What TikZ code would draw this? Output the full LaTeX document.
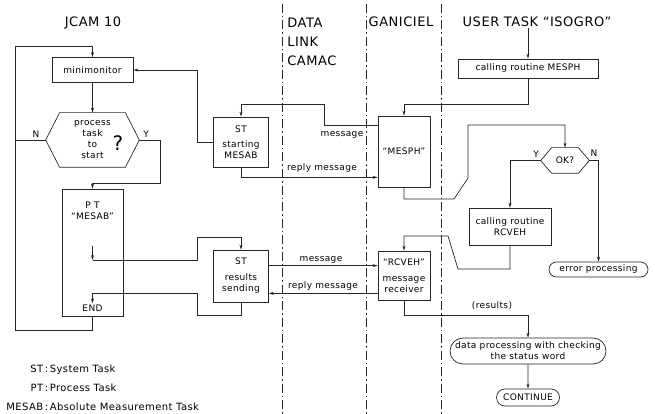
\documentclass[tikz,border=0pt]{standalone}
\usepackage{fontspec}
\setmainfont{DejaVu Sans}[LetterSpace=4]
\usetikzlibrary{arrows.meta,shapes.misc}

\begin{document}
\begin{tikzpicture}
  [x=1pt,y=-1pt,line width=0.7pt,draw=black!85,
   every node/.style={font=\fontsize{9}{11}\selectfont,inner sep=1pt,align=center},
   box/.style={draw,rectangle},
   term/.style={draw,rounded rectangle},
   hexa/.style={rectangle},
   head/.style={font=\fontsize{13}{19}\selectfont},
   arr/.style={-{Stealth[length=5pt,width=3pt]}},
   zone/.style={line width=0.5pt,dash pattern=on 9pt off 3pt on 1.5pt off 3pt}]
  \useasboundingbox (0,0) rectangle (655,414);

  % column titles and separators
  \node[head] (jcam) at (93,23) {JCAM 10};
  \node[head,align=left,anchor=west] (link) at (286,42) {DATA\\LINK\\CAMAC};
  \node[head] (ganiciel) at (401,22) {GANICIEL};
  \node[head] (user) at (537,22) {USER TASK ``ISOGRO''};
  \foreach \x in {282,366,441}
    \draw[zone] (\x,4) -- (\x,414);

  % JCAM 10
  \node[box,minimum width=81,minimum height=25] (mini) at (92.5,70) {minimonitor};
  \node[hexa,minimum width=93,minimum height=54] (task) at (92.5,140) {process\\task\\to\\start};
  \node[font=\fontsize{20}{20}\selectfont] (qmark) at (118,143) {?};
  \node[box,minimum width=61,minimum height=127] (pt) at (92.5,252.5) {};
  \node (ptname) at (92.5,211) {P T\\``MESAB''};
  \node (ptend) at (92.5,308) {END};
  \node (nlbl) at (36,134) {N};
  \node (ylbl) at (146,134) {Y};

  % system tasks
  \node[box,minimum width=55,minimum height=50] (ststart) at (241,142) {ST\\[4pt]starting\\MESAB};
  \node[box,minimum width=55,minimum height=52] (stsend) at (241,276) {ST\\[5pt]results\\sending};

  % GANICIEL
  \node[box,minimum width=52,minimum height=71] (mesph) at (404,151.5) {``MESPH''};
  \node[box,minimum width=52,minimum height=49] (rcveh) at (404,275.5) {``RCVEH''\\[5pt]message\\receiver};

  % user task
  \node[box,minimum width=140,minimum height=19] (callmesph) at (528,68.5) {calling routine MESPH};
  \node[hexa,minimum width=48,minimum height=25] (ok) at (565,160.5) {OK?};
  \node (oky) at (536,154) {Y};
  \node (okn) at (594,153) {N};
  \node[box,minimum width=82,minimum height=37] (callrcveh) at (510,226.5) {calling routine\\RCVEH};
  \node[term,minimum width=101,minimum height=15] (err) at (598.5,269.5) {error processing};
  \node[term,minimum width=158,minimum height=26] (datap) at (528,351) {data processing with checking\\the status word};
  \node[term,minimum width=65,minimum height=17] (cont) at (528,397.5) {CONTINUE};

  % message labels
  \node (msgup) at (342,135) {message};
  \node (replyup) at (322,168) {reply message};
  \node (msgdown) at (321,260) {message};
  \node (replydown) at (323,286) {reply message};
  \node (results) at (492,306) {(results)};

  % hexagon outlines
  \foreach \h/\c in {task/14,ok/11}
    \draw (\h.west) -- ([xshift=\c]\h.north west) -- ([xshift=-\c]\h.north east)
      -- (\h.east) -- ([xshift=-\c]\h.south east) -- ([xshift=\c]\h.south west) -- cycle;

  \coordinate (loop) at (15,46);
  \coordinate (ptflow) at (92.5,246);
  \coordinate (ptout) at (92.5,260);
  \coordinate (msgout) at ([yshift=-16pt]stsend.north east);
  \coordinate (replyout) at ([yshift=7pt]rcveh.south west);

  \foreach \from/\to in {mini/task,datap/cont,ptflow/ptout}
    \draw[arr] (\from) -- (\to);

  \draw[arr] (pt.south) -- ++(0,14) -| (loop) -| (mini.north);
  \draw (task.west) -- (task.west -| loop);
  \draw[arr] (task.east) -- ++(21,0) -- ++(0,43) -| (pt.north);
  \draw[arr] (ststart.west) -- ++(-16,0) |- (mini.east);
  \draw[arr] ([yshift=-10pt]mesph.north west) -- ++(-53,0) -- ++(0,-21) -| (ststart.north);
  \draw[arr] (ststart.south) |- ([yshift=10pt]mesph.south west);
  \draw[arr] (callmesph.north |- user.south) -- (callmesph.north);
  \draw[arr] (callmesph.south) -- ++(0,26) -| (mesph.north);
  \draw[arr] (mesph.south) |- (454,199) -- (468,178) -- (468,125) -| (ok.north);
  \draw[arr] (ok.west) -| (callrcveh.north);
  \draw[arr] (ok.east) -| (err.north);
  \draw[arr] (callrcveh.south) |- (458,269) -- (448,236) -| (rcveh.north);
  \draw[arr] (rcveh.south) -- ++(0,15) -| (datap.north);
  \draw[arr] (ptout) -| (197,237) -| (stsend.north);
  \draw[arr] (stsend.south) -- ++(0,13) -| (197,293) -| (ptend.north);
  \draw[arr] (msgout) -- (msgout -| rcveh.west);
  \draw[arr] (replyout) -- (replyout -| stsend.east);

  % legend
  \node[anchor=west,font=\fontsize{10}{19}\selectfont] (legend) at (5,388)
    {\begin{tabular}{@{}r@{\,:\,}l@{}}
       ST & System Task\\
       PT & Process Task\\
       MESAB & Absolute Measurement Task
     \end{tabular}};
\end{tikzpicture}
\end{document}
